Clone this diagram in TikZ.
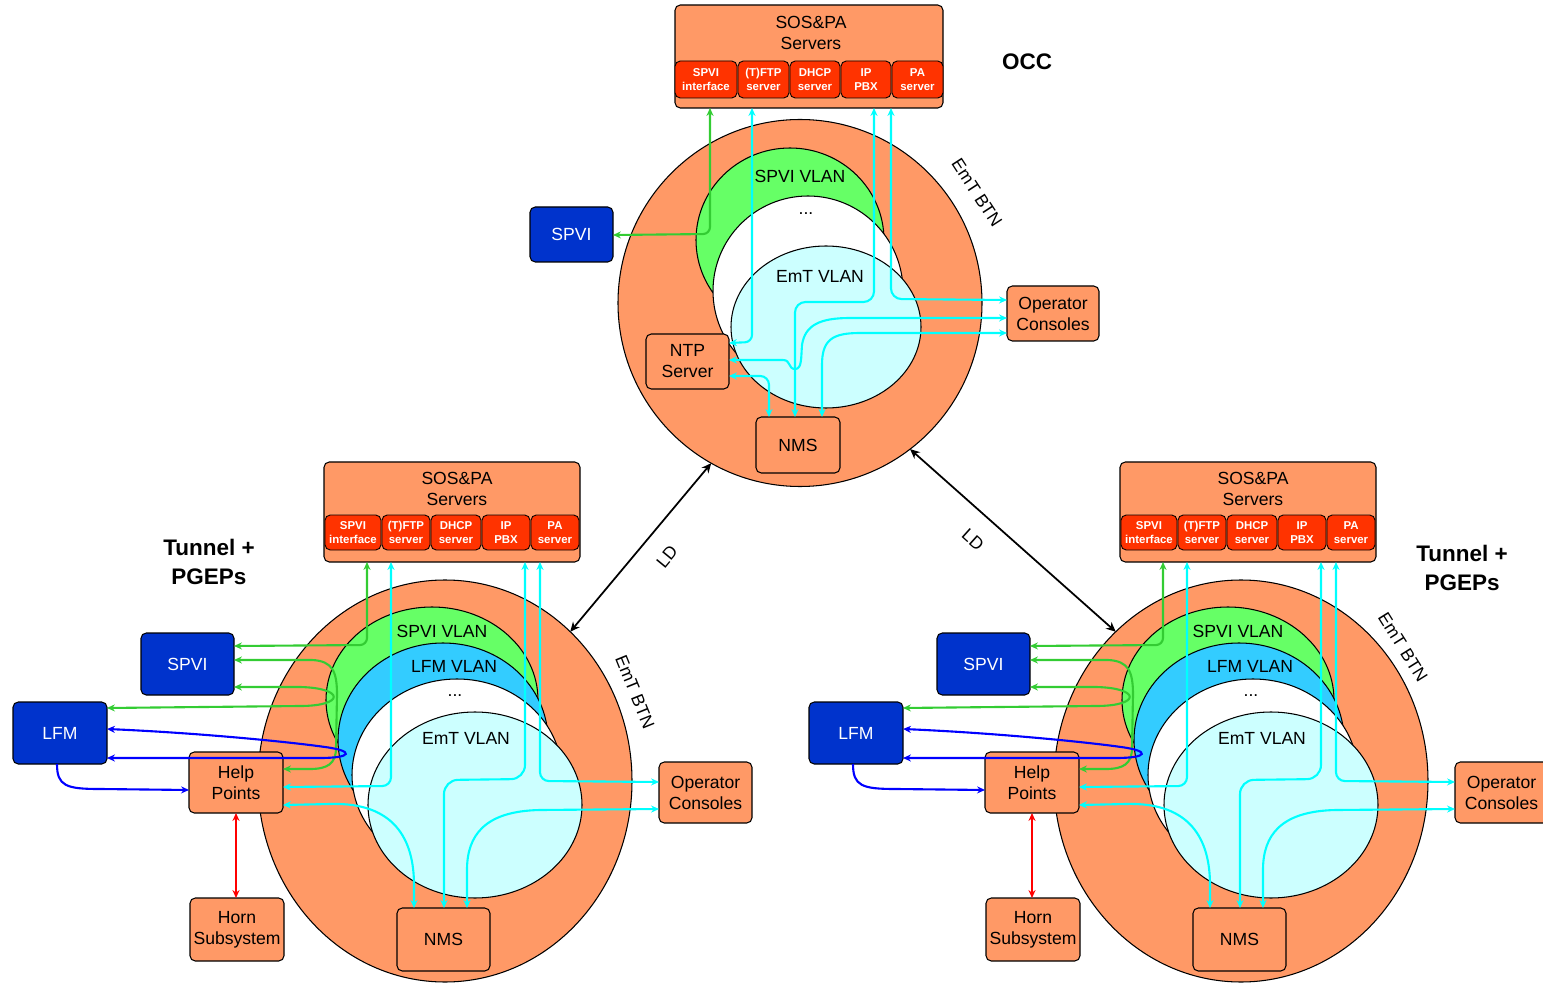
\documentclass[tikz,border=0pt]{standalone}
\usepackage{fontspec}
\setmainfont{Liberation Sans}
\usetikzlibrary{arrows.meta,shapes.geometric}
\definecolor{org}{HTML}{FF9966}
\definecolor{srvred}{HTML}{FF3300}
\definecolor{vgreen}{HTML}{66FF66}
\definecolor{vblue}{HTML}{33CCFF}
\definecolor{vcyan}{HTML}{CCFFFF}
\definecolor{boxblue}{HTML}{0033CC}
\definecolor{lgreen}{HTML}{33CC33}
\definecolor{lcyan}{HTML}{00FFFF}
\definecolor{lblue}{HTML}{0000FF}
\definecolor{lred}{HTML}{FF0000}

\newcommand\tunnelgroup[1]{%
  \node[ell, fill=org, sz={374}{402}] (btn#1) at (445,781) {};
  \node[ell, fill=vgreen, sz={212}{186}] (vg#1) at (432,700) {};
  \node[ell, fill=vblue, sz={210}{194}] (vb#1) at (443,740) {};
  \node[ell, fill=white, sz={210}{192}] (vw#1) at (457,775) {};
  \node[ell, fill=vcyan, sz={214}{186}] (vc#1) at (475,805) {};
  \node[lbl] (tsv#1) at (442,631) {SPVI VLAN};
  \node[lbl] (tlv#1) at (454,666) {LFM VLAN};
  \node[lbl] (tdt#1) at (455,696) {...};
  \node[lbl] (tev#1) at (466,738) {EmT VLAN};
  % servers
  \node[obox, sz={256}{100}] (sos#1) at (452,512) {};
  \node[lbl] (sost#1) at (457,489) {SOS\&PA\\Servers};
  \node[rbox, sz={56}{35}] (s1#1) at (353,532.5) {SPVI\\interface};
  \node[rbox, sz={48}{35}] (s2#1) at (406,532.5) {(T)FTP\\server};
  \node[rbox, sz={50}{35}] (s3#1) at (456,532.5) {DHCP\\server};
  \node[rbox, sz={48}{35}] (s4#1) at (506,532.5) {IP\\PBX};
  \node[rbox, sz={48}{35}] (s5#1) at (555,532.5) {PA\\server};
  % boxes
  \node[bbox, sz={93}{62}] (spvi#1) at (187.5,664) {SPVI};
  \node[bbox, sz={94}{62}] (lfm#1) at (60,733) {LFM};
  \node[obox, sz={94}{61}] (hp#1) at (236,782.5) {Help\\Points};
  \node[obox, sz={94}{63}] (horn#1) at (237,929.5) {Horn\\Subsystem};
  \node[obox, sz={93}{63}] (nms#1) at (443.5,939.5) {NMS};
  \node[obox, sz={93}{61}] (oc#1) at (705.5,792.5) {Operator\\Consoles};
  % connectors
  \draw[grn, rounded corners=4pt] (sos#1.south -| 367,0) -- (367,645) -- (spvi#1.east |- 0,646);
  \draw[grn] (spvi#1.east |- 0,660) -- (312,660) .. controls (333,661) and (337,672) .. (337,695) -- (336,748) .. controls (336,764) and (327,769) .. (310,769) -- (hp#1.east |- 0,769);
  \draw[grn] (spvi#1.east |- 0,687) -- (300,687) .. controls (345,688) and (345,706) .. (300,706) -- (lfm#1.east |- 0,708);
  \draw[blu] (lfm#1.east |- 0,729) .. controls (200,733) and (290,742) .. (325,747) .. controls (355,751) and (352,758) .. (320,758) -- (lfm#1.east |- 0,758);
  \draw[blu, ->] (lfm#1.south -| 57,0) .. controls (57,786) and (66,789) .. (100,789) -- (hp#1.west |- 0,790);
  \draw[cyn, rounded corners=5pt] (sos#1.south -| 391,0) -- (391,786) -- (hp#1.east |- 0,787);
  \draw[cyn, rounded corners=8pt] (sos#1.south -| 525,0) -- (525,779) -- (444,780) -- (nms#1.north -| 444,0);
  \draw[cyn, rounded corners=5pt] (sos#1.south -| 540,0) -- (540,781) -- (oc#1.west |- 0,782);
  \draw[cyn] (hp#1.east |- 0,805) -- (330,804) .. controls (395,802) and (414,840) .. (414,885) -- (nms#1.north -| 414,0);
  \draw[cyn] (oc#1.west |- 0,809) -- (540,810) .. controls (485,811) and (467,835) .. (467,870) -- (nms#1.north -| 467,0);
  \draw[rdl] (hp#1.south) -- (hp#1.south |- horn#1.north);
}

\begin{document}
\begin{tikzpicture}[x=0.02cm, y=-0.02cm,
  every node/.style={inner sep=0pt, outer sep=0pt},
  sz/.style 2 args={minimum width=#1*0.02cm, minimum height=#2*0.02cm},
  ell/.style={ellipse, draw=black, line width=0.6pt},
  obox/.style={draw=black, fill=org, rounded corners=3pt, align=center, font=\fontsize{10}{12}\selectfont, line width=0.6pt},
  bbox/.style={draw=black, fill=boxblue, rounded corners=3pt, text=white, font=\fontsize{10}{12}\selectfont, line width=0.6pt},
  rbox/.style={draw=black, fill=srvred, rounded corners=3pt, text=white, align=center, font=\bfseries\fontsize{6.5}{8}\selectfont, line width=0.5pt},
  lbl/.style={align=center, font=\fontsize{10}{12}\selectfont},
  ttl/.style={align=center, font=\bfseries\fontsize{12.8}{16}\selectfont},
  >={Stealth[length=4.5pt,width=4pt]},
  con/.style={line width=1.2pt, <->},
  grn/.style={con, draw=lgreen},
  cyn/.style={con, draw=lcyan},
  blu/.style={con, draw=lblue},
  rdl/.style={con, draw=lred, line width=0.9pt},
  ld/.style={draw=black, line width=1pt, <->, >={Stealth[length=5.5pt,width=5pt]}}
]
\useasboundingbox (0,0) rectangle (1543,983);

% ---------- OCC ----------
\node[ell, fill=org, sz={364}{367}] (btn0) at (800,303) {};
\node[ell, fill=vgreen, sz={188}{184}] (vg0) at (790,240) {};
\node[ell, fill=white, sz={190}{190}] (vw0) at (808,291) {};
\node[ell, fill=vcyan, sz={190}{162}] (vc0) at (826,327) {};
\node[lbl] (tsv0) at (800,176) {SPVI VLAN};
\node[lbl] (tdt0) at (806,214) {...};
\node[lbl] (tev0) at (820,276) {EmT VLAN};

\node[obox, sz={268}{103}] (sos0) at (809,56.5) {};
\node[lbl] (sost0) at (811,33) {SOS\&PA\\Servers};
\node[rbox, sz={62}{37}] (s10) at (706,79.5) {SPVI\\interface};
\node[rbox, sz={51}{37}] (s20) at (763.5,79.5) {(T)FTP\\server};
\node[rbox, sz={50}{37}] (s30) at (815,79.5) {DHCP\\server};
\node[rbox, sz={50}{37}] (s40) at (866,79.5) {IP\\PBX};
\node[rbox, sz={51}{37}] (s50) at (917.5,79.5) {PA\\server};

\node[bbox, sz={83}{55}] (spvi0) at (571.5,234.5) {SPVI};
\node[obox, sz={92}{55}] (oc0) at (1053,313.5) {Operator\\Consoles};
\node[obox, sz={83}{55}] (ntp0) at (687.5,361.5) {NTP\\Server};
\node[obox, sz={84}{56}] (nms0) at (798,445) {NMS};

\node[ttl] (occ) at (1027,62) {OCC};
\node[lbl, rotate=-57] (eb0) at (977,193) {EmT BTN};

\draw[grn, rounded corners=4pt] (sos0.south -| 710,0) -- (710,234) -- (spvi0.east |- 0,235);
\draw[cyn, rounded corners=4pt] (sos0.south -| 752,0) -- (752,342) -- (ntp0.east |- 0,343);
\draw[cyn, rounded corners=6pt] (sos0.south -| 874,0) -- (874,302) -- (795,302) -- (nms0.north -| 795,0);
\draw[cyn, rounded corners=6pt] (sos0.south -| 891,0) -- (891,299) -- (oc0.west |- 0,300);
\draw[cyn] (ntp0.east |- 0,360) -- (783,360) .. controls (791,360) and (788,369) .. (795,369) .. controls (802,369) and (801,358) .. (802,345) .. controls (805,325) and (820,318) .. (850,318) -- (oc0.west |- 0,318);
\draw[cyn, rounded corners=5pt] (ntp0.east |- 0,376) -- (769,376) -- (nms0.north -| 769,0);
\draw[cyn] (nms0.north -| 822,0) -- (822,365) .. controls (822,340) and (832,333) .. (860,333) -- (oc0.west |- 0,333);

% ---------- Tunnel clusters ----------
\begin{scope}
\tunnelgroup{A}
\end{scope}
\begin{scope}[xshift=796*0.02cm]
\tunnelgroup{B}
\end{scope}

\node[ttl] (tt1) at (209,562) {Tunnel +\\PGEPs};
\node[ttl] (tt2) at (1462,568) {Tunnel +\\PGEPs};
\node[lbl, rotate=-68] (ebA) at (635,692) {EmT BTN};
\node[lbl, rotate=-58] (ebB) at (1403,647) {EmT BTN};

% ---------- LD links ----------
\draw[ld] (btn0.-119.5) -- (btnA.50);
\draw[ld] (btn0.-53.4) -- (btnB.130.9);
\node[lbl, rotate=50.6] (ld1) at (667,557) {LD};
\node[lbl, rotate=-42] (ld2) at (973,540) {LD};
\end{tikzpicture}
\end{document}
